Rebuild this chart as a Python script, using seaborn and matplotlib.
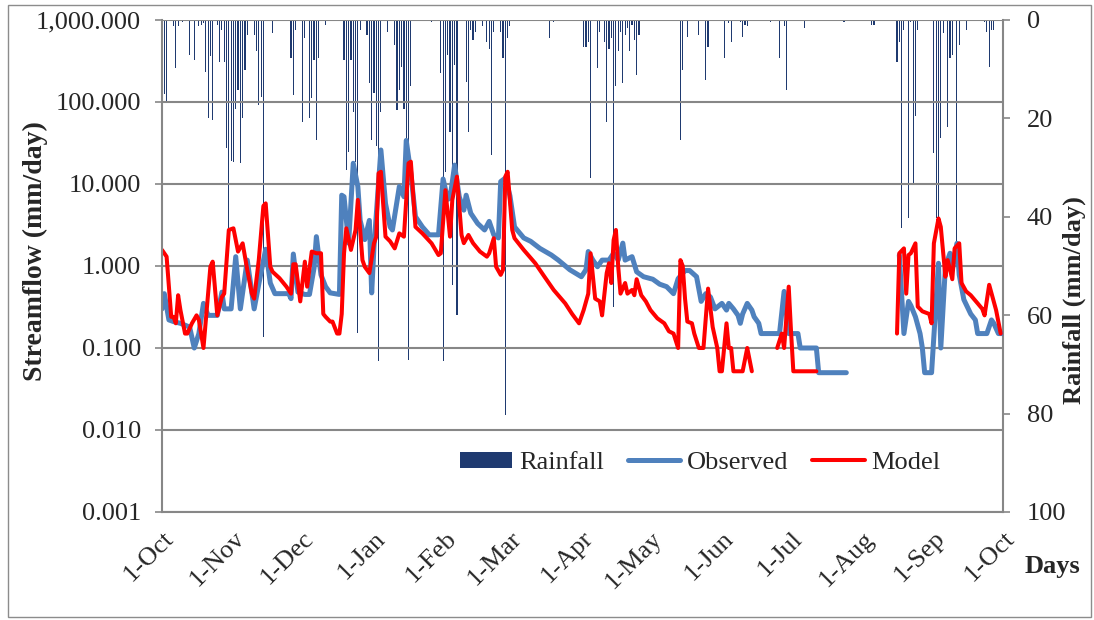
import numpy as np
import pandas as pd
import matplotlib
matplotlib.use("Agg")
import matplotlib.pyplot as plt
import matplotlib.transforms as mtransforms
import seaborn as sns
from matplotlib.patches import Patch, Rectangle
from matplotlib.lines import Line2D
from matplotlib.ticker import FixedLocator, FuncFormatter, NullLocator

# ---------------- data ----------------
month_ticks = [0, 31, 61, 92, 123, 151, 182, 212, 243, 273, 304, 335, 365]
month_labels = ["1-Oct", "1-Nov", "1-Dec", "1-Jan", "1-Feb", "1-Mar", "1-Apr",
                "1-May", "1-Jun", "1-Jul", "1-Aug", "1-Sep", "1-Oct"]

rain_day = [1, 2, 5, 6, 7, 9, 12, 14, 16, 17, 18, 19, 20, 21, 22, 24, 25, 26, 27, 28,
            29, 30, 31, 32, 33, 34, 35, 36, 37, 40, 41, 42, 43, 44, 48, 56, 57, 58, 61, 62,
            64, 65, 66, 67, 68, 71, 79, 80, 81, 82, 83, 84, 85, 86, 89, 90, 91, 92, 93, 94,
            95, 98, 101, 102, 103, 104, 105, 106, 107, 108, 117, 121, 122, 123, 124, 125, 126, 127, 128, 132,
            133, 134, 135, 136, 139, 141, 142, 143, 144, 147, 148, 149, 150, 151, 168, 170, 183, 184, 185, 186,
            189, 190, 192, 193, 194, 195, 196, 197, 198, 199, 200, 201, 202, 203, 204, 205, 206, 207, 225, 226,
            228, 233, 236, 237, 244, 246, 247, 251, 252, 253, 254, 264, 268, 270, 271, 279, 296, 308, 309, 319,
            320, 321, 322, 324, 325, 326, 327, 328, 335, 336, 337, 338, 339, 341, 342, 343, 345, 346, 349, 357,
            358, 359, 360, 361]
rain_mm = [15.0, 16.7, 1.3, 9.8, 1.3, 0.5, 7.1, 8.1, 1.3, 1.0, 0.7, 10.5, 20.0, 7.4, 20.3, 1.0, 8.5, 2.0, 8.5, 26.0,
           42.3, 28.7, 28.8, 18.0, 14.2, 29.1, 20.0, 10.2, 3.0, 3.0, 6.4, 17.3, 15.6, 64.4, 2.7, 7.8, 15.2, 2.0, 20.7, 3.7,
           20.0, 15.9, 8.1, 24.4, 7.8, 1.0, 8.1, 30.5, 26.8, 8.1, 18.6, 28.8, 63.7, 2.0, 3.0, 12.9, 24.4, 14.9, 25.7, 69.4,
           18.6, 2.4, 5.1, 18.3, 14.2, 9.5, 18.0, 28.8, 69.1, 13.5, 0.5, 10.8, 69.4, 30.8, 7.1, 22.7, 53.9, 9.1, 60.0, 12.5,
           22.7, 2.0, 4.1, 2.4, 1.3, 4.4, 5.8, 27.4, 2.4, 2.4, 7.8, 80.3, 3.7, 1.3, 3.7, 0.5, 5.4, 5.4, 4.4, 32.2,
           9.8, 2.4, 4.4, 20.7, 5.8, 3.7, 58.3, 13.5, 6.4, 2.4, 12.9, 3.0, 1.7, 6.4, 1.0, 4.1, 11.2, 3.0, 24.4, 10.2,
           3.4, 3.0, 12.2, 5.4, 7.8, 0.7, 4.4, 0.5, 3.4, 1.0, 1.3, 0.5, 7.8, 1.3, 14.2, 1.7, 0.5, 1.0, 1.0, 8.5,
           4.4, 42.3, 2.0, 40.3, 0.5, 33.2, 19.6, 2.0, 27.1, 40.3, 40.3, 24.0, 2.7, 21.7, 7.8, 7.1, 45.0, 5.1, 2.0, 0.5,
           2.4, 9.5, 2.0, 2.0]

obs_day = [0, 1, 3, 5, 8, 12, 14, 16, 18, 20, 24, 26, 27, 30, 32, 34, 37, 40, 42, 45,
           47, 49, 55, 56, 57, 59, 62, 64, 66, 67, 69, 71, 73, 77, 78, 79, 81, 83, 85, 86,
           88, 90, 91, 92, 95, 97, 99, 100, 103, 105, 106, 108, 110, 113, 116, 120, 122, 124, 125, 127,
           129, 131, 132, 134, 137, 140, 142, 144, 146, 147, 149, 151, 153, 157, 160, 164, 169, 172, 177, 182,
           184, 185, 187, 189, 191, 194, 196, 198, 200, 201, 204, 206, 209, 213, 216, 219, 222, 224, 227, 229,
           232, 234, 236, 238, 240, 243, 245, 246, 248, 250, 251, 252, 254, 256, 257, 259, 260, 268, 270, 272,
           276, 277, 284, 285, 297, 298, 320, 322, 324, 325, 327, 329, 330, 331, 334, 337, 338, 340, 342, 343,
           345, 346, 348, 351, 353, 354, 358, 360, 361, 363, 365]
obs_val = [0.30, 0.46, 0.22, 0.21, 0.20, 0.18, 0.10, 0.15, 0.35, 0.25, 0.25, 0.48, 0.30, 0.30, 1.30, 0.30, 1.18, 0.30, 0.60, 1.60,
           0.62, 0.46, 0.46, 0.40, 1.40, 0.48, 0.45, 0.45, 0.95, 2.28, 0.78, 0.56, 0.47, 0.45, 7.3, 7.0, 1.9, 17.9, 9.3, 3.6,
           2.1, 3.6, 0.47, 1.7, 26.0, 5.8, 3.0, 2.75, 9.3, 7.0, 34.0, 13.5, 4.0, 3.0, 2.4, 2.4, 11.5, 6.5, 6.7, 17.0,
           7.0, 4.8, 7.3, 4.4, 3.3, 2.75, 3.5, 2.4, 2.2, 10.7, 11.8, 7.2, 3.0, 2.2, 2.0, 1.64, 1.36, 1.18, 0.90, 0.74,
           0.90, 1.50, 1.18, 0.98, 1.18, 1.18, 1.43, 1.18, 1.90, 1.18, 1.30, 0.85, 0.74, 0.69, 0.60, 0.56, 0.46, 0.70, 0.88, 0.88,
           0.74, 0.37, 0.46, 0.42, 0.30, 0.35, 0.29, 0.35, 0.30, 0.25, 0.20, 0.26, 0.35, 0.29, 0.24, 0.20, 0.15, 0.15, 0.49, 0.15,
           0.15, 0.10, 0.10, 0.05, 0.05, np.nan, 1.36, 0.15, 0.37, 0.33, 0.24, 0.15, 0.10, 0.05, 0.05, 1.08, 0.10, 0.98, 1.43, 0.90,
           1.89, 0.78, 0.39, 0.26, 0.22, 0.15, 0.15, 0.22, 0.20, 0.15, 0.15]

model_day = [0, 2, 4, 5, 6, 7, 8, 10, 11, 13, 15, 16, 18, 21, 22, 24, 26, 27, 29, 31,
             33, 35, 37, 39, 40, 42, 44, 45, 47, 48, 51, 54, 56, 57, 58, 60, 62, 63, 65, 67,
             69, 70, 71, 73, 74, 76, 77, 78, 79, 80, 82, 84, 85, 87, 88, 90, 92, 93, 94, 95,
             97, 99, 101, 103, 105, 107, 108, 110, 113, 117, 120, 121, 123, 125, 126, 128, 130, 131, 133, 135,
             138, 141, 142, 144, 145, 147, 148, 149, 150, 152, 153, 157, 162, 166, 170, 175, 178, 181, 183, 185,
             186, 188, 190, 191, 193, 194, 195, 196, 197, 198, 199, 201, 202, 204, 205, 206, 208, 210, 212, 215,
             218, 220, 222, 224, 225, 226, 227, 228, 230, 231, 233, 235, 237, 239, 241, 242, 243, 245, 246, 247,
             248, 252, 254, 256, 257, 267, 269, 270, 272, 273, 274, 284, 285, 319, 320, 322, 323, 324, 325, 327,
             328, 330, 333, 334, 335, 337, 338, 340, 341, 343, 344, 346, 347, 349, 351, 354, 356, 357, 359, 362,
             364]
model_val = [1.57, 1.30, 0.24, 0.24, 0.20, 0.44, 0.29, 0.15, 0.15, 0.20, 0.25, 0.22, 0.10, 0.98, 1.13, 0.25, 0.42, 0.46, 2.75, 2.88,
             1.50, 1.89, 0.90, 0.46, 0.40, 1.18, 5.4, 5.8, 0.98, 0.85, 0.71, 0.56, 0.46, 1.05, 1.05, 0.37, 1.13, 0.56, 1.50, 1.43,
             1.43, 0.26, 0.24, 0.21, 0.21, 0.15, 0.15, 0.26, 1.43, 2.88, 1.57, 2.75, 6.4, 1.18, 0.98, 0.82, 1.89, 2.28, 13.5, 14.1,
             2.28, 2.0, 1.64, 2.5, 2.28, 17.9, 18.7, 3.0, 2.5, 1.89, 1.36, 1.43, 8.4, 2.28, 6.4, 12.3, 2.39, 1.9, 2.39, 1.9,
             1.5, 1.3, 1.43, 2.18, 0.98, 0.78, 0.90, 12.3, 14.1, 2.75, 2.18, 1.57, 1.08, 0.74, 0.51, 0.35, 0.26, 0.20, 0.29, 0.46,
             1.43, 0.40, 0.37, 0.25, 0.82, 1.08, 0.62, 2.07, 2.75, 0.98, 0.46, 0.62, 0.46, 0.51, 0.44, 0.69, 0.44, 0.37, 0.29, 0.23,
             0.20, 0.16, 0.15, 0.10, 1.18, 1.0, 0.40, 0.21, 0.20, 0.15, 0.10, 0.10, 0.53, 0.18, 0.10, 0.052, 0.052, 0.20, 0.10, 0.10,
             0.052, 0.052, 0.10, 0.052, np.nan, 0.10, 0.15, 0.10, 0.56, 0.16, 0.052, 0.052, np.nan, 0.15, 1.43, 1.64, 0.46, 1.36, 1.43, 1.89,
             0.32, 0.28, 0.26, 0.20, 1.89, 3.8, 3.0, 0.74, 1.18, 0.69, 1.64, 1.89, 0.62, 0.49, 0.44, 0.35, 0.30, 0.25, 0.59, 0.29,
             0.15]

flow_ticks = [0.001, 0.01, 0.1, 1, 10, 100, 1000]
rain_ticks = [0, 20, 40, 60, 80, 100]

# ---------------- style ----------------
sns.set_style("white")
plt.rcParams['font.family'] = ['Liberation Serif', 'DejaVu Serif']
plt.rcParams['font.size'] = 19

GRAY = '#878787'
OBS_C = '#4F81BD'
MOD_C = '#FF0000'
RAIN_C = '#1F3A70'

W, H = 1094, 620
fig = plt.figure(figsize=(W / 100, H / 100), dpi=100)
ax1 = fig.add_axes([162 / W, 1 - 512 / H, (1003 - 162) / W, 492 / H])
ax2 = ax1.twinx()
ax1.set_zorder(ax2.get_zorder() + 1)
ax1.patch.set_visible(False)

# rainfall bars (inverted secondary axis)
rain_df = pd.DataFrame({'day': rain_day, 'mm': rain_mm})
sns.barplot(data=rain_df, x='day', y='mm', native_scale=True, width=0.5,
            color=RAIN_C, saturation=1, errorbar=None, linewidth=0, ax=ax2)
ax2.set_ylim(100, 0)
ax2.set_yticks(rain_ticks)

# streamflow lines
ax1.set_yscale('log')


def segments(days, vals):
    df = pd.DataFrame({'day': days, 'val': vals})
    df['seg'] = df['val'].isna().cumsum()
    return df.dropna()


obs_df = segments(obs_day, obs_val)
mod_df = segments(model_day, model_val)
sns.lineplot(data=obs_df, x='day', y='val', units='seg', estimator=None,
             color=OBS_C, linewidth=3.6, ax=ax1, legend=False)
sns.lineplot(data=mod_df, x='day', y='val', units='seg', estimator=None,
             color=MOD_C, linewidth=2.9, ax=ax1, legend=False)

ax1.set_xlim(0, 365)
ax2.set_xlim(0, 365)
ax1.set_ylim(0.001, 1000)
ax1.yaxis.set_major_locator(FixedLocator(flow_ticks))
ax1.yaxis.set_minor_locator(NullLocator())
ax1.yaxis.set_major_formatter(FuncFormatter(lambda v, _: f"{v:,.3f}"))
ax1.set_xticks(month_ticks)
ax1.set_xticklabels(month_labels, rotation=45, ha='right', rotation_mode='anchor')
shift = mtransforms.ScaledTranslation(9 / 100, 0, fig.dpi_scale_trans)
for lab in ax1.get_xticklabels():
    lab.set_transform(lab.get_transform() + shift)
ax1.grid(axis='y', color=GRAY, linewidth=1.5)
ax1.grid(axis='x', visible=False)
ax2.grid(False)

for sp in ['top', 'right']:
    ax1.spines[sp].set_visible(False)
for sp in ['left', 'bottom']:
    ax1.spines[sp].set_color(GRAY)
    ax1.spines[sp].set_linewidth(1.5)
for sp in ['top', 'left', 'bottom']:
    ax2.spines[sp].set_visible(False)
ax2.spines['right'].set_color(GRAY)
ax2.spines['right'].set_linewidth(1.5)

ax1.tick_params(axis='y', which='major', direction='out', length=5, width=1.2,
                color=GRAY, pad=10, left=True)
ax1.tick_params(axis='x', length=0, pad=11)
ax2.tick_params(axis='y', direction='out', length=5, width=1.2, color=GRAY,
                pad=12, right=True)
ax2.set_xlabel('')
ax2.set_ylabel('')
ax1.set_xlabel('')

ax1.set_ylabel('Streamflow (mm/day)', fontweight='bold', fontsize=20)
ax1.yaxis.set_label_coords(-0.1356, 0.53)
ax2.set_ylabel('Rainfall (mm/day)', fontweight='bold', rotation=90)
ax2.yaxis.set_label_coords(1.0714, 0.43)

fig.text(1052 / W, 1 - 567 / H, 'Days', ha='center', va='center', fontweight='bold')

handles = [Patch(facecolor=RAIN_C, edgecolor='none'),
           Line2D([], [], color=OBS_C, linewidth=3.6),
           Line2D([], [], color=MOD_C, linewidth=2.9)]
ax1.legend(handles, ['Rainfall', 'Observed', 'Model'], ncol=3, frameon=False,
           loc='center left', bbox_to_anchor=(0.354, 0.10), borderpad=0,
           borderaxespad=0, handlelength=2.0, handleheight=0.55,
           handletextpad=0.25, columnspacing=0.9)

fig.patches.append(Rectangle((8 / W, 1 - 617 / H), (1091 - 8) / W, (617 - 5) / H,
                             transform=fig.transFigure, fill=False,
                             edgecolor='#8c8c8c', linewidth=1))

fig.savefig('out.png', dpi=100)
